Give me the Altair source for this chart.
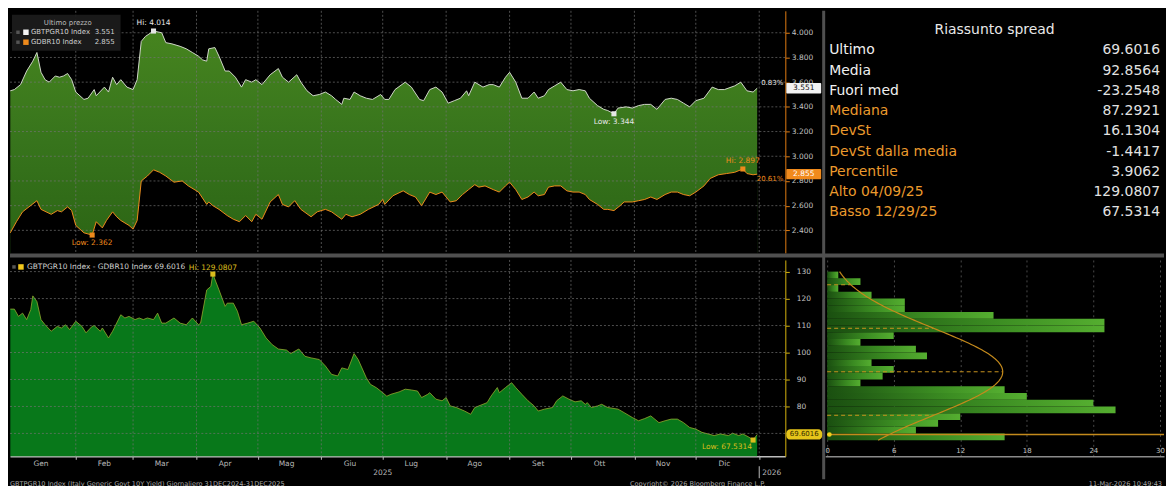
import altair as alt
import numpy as np
import pandas as pd

FONT = "DejaVu Sans"

# ---------------- data ----------------
# Italy 10Y yield (GBTPGR10), day offset from 31 Dec 2024
it_days = [0, 2, 5, 8, 11, 13, 15, 17, 19, 22, 24, 26, 28, 30, 32, 36, 38, 41, 42, 46,
           48, 50, 52, 54, 57, 60, 62, 64, 66, 70, 74, 76, 79, 83, 86, 89, 92, 94, 96, 97,
           100, 102, 105, 107, 110, 113, 115, 118,
           120, 123, 127, 131, 133, 136, 140, 142, 145, 148, 151, 154, 157, 159, 162, 163, 166, 168, 171, 174,
           177, 181, 183, 185, 188, 193, 196, 200, 202, 205, 208, 211, 214, 217, 220, 223, 224, 227, 231, 234,
           236, 239,
           242, 244, 247, 250, 253, 256, 258, 261, 263, 266, 269, 272, 275, 278, 281, 283, 287, 290, 292, 295,
           297, 301, 304, 307, 310, 313, 316, 320, 323, 326, 329, 332, 335, 339, 343, 346, 349, 354, 357, 360,
           363, 365]
it_vals = [3.53, 3.54, 3.58, 3.69, 3.77, 3.84, 3.68, 3.62, 3.60, 3.65, 3.64, 3.65, 3.67, 3.62, 3.52, 3.46, 3.47, 3.54, 3.49, 3.56,
           3.52, 3.64, 3.58, 3.62, 3.56, 3.54, 3.62, 3.93, 3.97, 4.014, 4.00, 3.92, 3.91, 3.89, 3.87, 3.84, 3.81, 3.78, 3.77, 3.87,
           3.88, 3.81, 3.69, 3.69, 3.64, 3.56, 3.62, 3.60,
           3.62, 3.58, 3.66, 3.71, 3.64, 3.60, 3.66, 3.60, 3.53, 3.49, 3.50, 3.52, 3.49, 3.46, 3.42, 3.47, 3.46, 3.52, 3.49, 3.47,
           3.46, 3.50, 3.46, 3.46, 3.54, 3.60, 3.56, 3.46, 3.45, 3.54, 3.56, 3.52, 3.43, 3.45, 3.47, 3.53, 3.49, 3.60, 3.56, 3.58,
           3.58, 3.56,
           3.64, 3.68, 3.60, 3.47, 3.47, 3.52, 3.47, 3.49, 3.54, 3.57, 3.60, 3.54, 3.53, 3.54, 3.53, 3.47, 3.41, 3.38, 3.37, 3.344,
           3.39, 3.40, 3.39, 3.41, 3.42, 3.42, 3.38, 3.46, 3.47, 3.46, 3.43, 3.40, 3.45, 3.47, 3.56, 3.54, 3.54, 3.57, 3.60, 3.53,
           3.52, 3.551]

# Germany 10Y yield (GDBR10)
de_days = [0, 3, 6, 13, 15, 20, 23, 25, 28, 30, 32, 36, 40, 42, 45, 47, 50, 52, 54, 58,
           60, 62, 64, 67, 70, 73, 76, 80, 84, 87, 91, 92, 96, 97, 99, 102, 106, 109, 112, 115, 118,
           120, 123, 127, 131, 133, 136, 139, 142, 147, 150, 154, 157, 162, 164, 167, 171, 175, 180, 182, 183,
           187, 192, 195, 198, 201, 205, 208, 211, 215, 218, 221, 224, 227, 229, 232, 236, 239,
           242, 244, 247, 250, 253, 256, 258, 261, 263, 266, 269, 272, 275, 278, 281, 283, 287, 290, 292, 295,
           298, 300, 304, 307, 310, 313, 316, 320, 323, 326, 329, 332, 335, 339, 342, 346, 350, 354, 358, 360,
           363, 365]
de_vals = [2.38, 2.47, 2.55, 2.64, 2.57, 2.53, 2.56, 2.55, 2.59, 2.56, 2.44, 2.38, 2.362, 2.47, 2.42, 2.48, 2.55, 2.51, 2.48, 2.44,
           2.41, 2.48, 2.80, 2.84, 2.89, 2.87, 2.84, 2.79, 2.80, 2.76, 2.72, 2.71, 2.61, 2.63, 2.60, 2.57, 2.52, 2.49, 2.47, 2.52, 2.47,
           2.53, 2.49, 2.63, 2.69, 2.61, 2.59, 2.64, 2.57, 2.51, 2.55, 2.57, 2.55, 2.49, 2.53, 2.51, 2.53, 2.57, 2.61, 2.65, 2.61,
           2.68, 2.72, 2.69, 2.67, 2.60, 2.71, 2.69, 2.71, 2.63, 2.64, 2.69, 2.73, 2.77, 2.75, 2.76, 2.73, 2.71,
           2.76, 2.79, 2.73, 2.65, 2.67, 2.71, 2.68, 2.69, 2.75, 2.76, 2.76, 2.72, 2.71, 2.71, 2.69, 2.65, 2.61, 2.57, 2.57, 2.56,
           2.60, 2.63, 2.63, 2.64, 2.65, 2.67, 2.65, 2.69, 2.71, 2.71, 2.69, 2.68, 2.71, 2.76, 2.82, 2.85, 2.86, 2.87, 2.897, 2.86,
           2.85, 2.855]

# Spread GBTPGR10 - GDBR10 (bp)
sp_days = [0, 2, 4, 6, 8, 10, 11, 13, 15, 17, 20, 23, 25, 27, 29, 32, 35, 37, 40, 41,
           44, 45, 48, 50, 54, 56, 58, 61, 63, 65, 67, 70, 72, 74, 76, 80, 83, 86, 89, 92,
           93, 96, 98, 99, 102, 105, 106, 109, 111, 113, 116, 119, 122, 125, 128, 131, 135, 137, 141, 144,
           147, 151, 154, 157, 160, 162, 165, 168, 170, 174, 176, 179, 181, 184, 186,
           190, 193, 196, 199, 201, 204, 205, 208, 211, 213, 215, 218, 222, 225, 227, 231, 233, 235, 238, 239,
           242, 245, 247, 250, 253, 256, 258, 261, 265, 267, 270, 273, 276, 279, 281, 282, 284, 287, 289, 292,
           297, 300, 304, 307, 310, 313, 317, 320, 323, 326, 329, 332, 335, 338, 341, 344, 347, 351, 353, 356,
           358, 361, 363, 365]
sp_vals = [116.1, 116.1, 113.4, 114.6, 112.2, 115.9, 121.0, 118.9, 112.2, 110.3, 107.9, 109.7, 109.1, 110.3, 108.5, 111.6, 109.7, 107.3, 109.7, 110.0,
           107.9, 109.1, 105.4, 107.9, 114.0, 112.8, 113.4, 112.2, 112.8, 112.2, 112.8, 112.2, 114.6, 110.9, 110.9, 112.8, 110.9, 110.3, 112.8, 110.3,
           110.9, 123.2, 124.5, 129.0807, 123.2, 117.1, 118.3, 118.3, 115.3, 110.3, 110.9, 111.6, 109.1, 105.4, 102.9, 101.3, 100.9, 99.6, 101.3, 98.6,
           98.0, 97.4, 95.0, 91.9, 91.3, 94.3, 93.7, 99.6, 97.4, 90.6, 88.2, 86.9, 85.7, 83.8, 84.5,
           85.4, 86.4, 86.1, 85.7, 83.3, 84.5, 85.1, 82.7, 82.1, 83.3, 80.2, 79.6, 78.3, 77.1, 79.6, 80.8, 81.4, 83.9, 87.0, 85.1,
           87.0, 88.8, 87.0, 84.5, 82.1, 80.2, 78.3, 79.0, 79.6, 82.1, 83.9, 82.7, 81.7, 82.1, 80.8, 81.4, 79.6, 80.2, 80.8, 79.6,
           79.0, 77.7, 75.9, 74.7, 75.5, 76.5, 74.0, 74.7, 75.3, 75.3, 74.0, 72.2, 71.6, 70.4, 69.8, 69.2, 69.8, 69.2, 70.1, 69.2,
           69.8, 68.6, 67.5314, 69.6016]

# Histogram of the spread (bins of 2.5 bp from 67.5, bottom to top)
hist_counts = [16, 8, 10, 12, 26, 24, 18, 16, 3, 5, 6, 4, 9, 8, 3, 6, 25, 25, 15, 7, 7, 4, 1, 3, 1]
hist_start = 67.5
hist_bin = 2.5

month_names = ["Gen", "Feb", "Mar", "Apr", "Mag", "Giu", "Lug", "Ago", "Set", "Ott", "Nov", "Dic"]
top_ticks = [2.4, 2.6, 2.8, 3.0, 3.2, 3.4, 3.6, 3.8, 4.0]
bot_grid = [70, 80, 90, 100, 110, 120, 130]
bot_ticks = [80, 90, 100, 110, 120, 130]   # 70 is hidden behind the last-value tag
hist_ticks = [0, 6, 12, 18, 24, 30]

stat_title = "Riassunto spread"
stat_labels = ["Ultimo", "Media", "Fuori med", "Mediana", "DevSt", "DevSt dalla media",
               "Percentile", "Alto 04/09/25", "Basso 12/29/25"]
stat_values = ["69.6016", "92.8564", "-23.2548", "87.2921", "16.1304", "-1.4417",
               "3.9062", "129.0807", "67.5314"]
stat_mean = 92.8564
stat_sd = 16.1304
stat_n = 256

pct_labels = ["0.83%", "20.61%"]
footer_left = "GBTPGR10 Index (Italy Generic Govt 10Y Yield) Giornaliero 31DEC2024-31DEC2025"
footer_mid = "Copyright\u00a9 2026 Bloomberg Finance L.P."
footer_right = "11-Mar-2026 10:49:43"

# ---------------- frames ----------------
BASE = pd.Timestamp("2024-12-31")


def frame(days, vals):
    return pd.DataFrame({"date": BASE + pd.to_timedelta(days, unit="D"), "v": vals})


it_df = frame(it_days, it_vals)
de_df = frame(de_days, de_vals)
sp_df = frame(sp_days, sp_vals)
one = pd.DataFrame({"k": [0]})

month_starts = [pd.Timestamp(2025, m, 1) for m in range(2, 13)] + [pd.Timestamp(2026, 1, 1)]
month_start_dt = [alt.DateTime(year=2025, month=m, date=1) for m in range(2, 13)] + \
                 [alt.DateTime(year=2026, month=1, date=1)]
month_df = pd.DataFrame({"date": [pd.Timestamp(2025, m, 15) for m in range(1, 13)], "name": month_names})
grid_v_df = pd.DataFrame({"date": month_starts})

# ---------------- scales / axes ----------------
W_MAIN, H_TOP, H_BOT, W_SIDE = 778, 243, 197, 340
W_ALL = W_MAIN + 40 + W_SIDE
TOP_LO, TOP_HI = 2.2168, 4.1776
BOT_LO, BOT_HI = 61.52, 134.32

xs = alt.Scale(domain=[alt.DateTime(year=2024, month=12, date=30, hours=20, minutes=30),
                       alt.DateTime(year=2026, month=1, date=13, hours=18)])
ys_top = alt.Scale(domain=[TOP_LO, TOP_HI], nice=False, zero=False)
ys_bot = alt.Scale(domain=[BOT_LO, BOT_HI], nice=False, zero=False)
hx = alt.Scale(domain=[-0.18, 30.37], nice=False, zero=False)

ax_top = alt.Axis(orient="right", values=top_ticks, format=".3f", grid=False, title=None,
                  domainColor="#e07b12", tickColor="#e07b12", tickSize=4, labelColor="#c2c2c2",
                  labelFontSize=7.5, labelPadding=2, labelFont=FONT)
ax_bot = alt.Axis(orient="right", values=bot_ticks, grid=False, title=None,
                  domainColor="#d6b30e", tickColor="#d6b30e", tickSize=4, labelColor="#c2c2c2",
                  labelFontSize=7.5, labelPadding=7, labelFont=FONT)
ax_xb = alt.Axis(values=month_start_dt, labels=False, ticks=True, tickSize=3, tickColor="#bdbdbd",
                 domainColor="#bdbdbd", domainWidth=1.5, grid=False, title=None)
ax_hx = alt.Axis(values=hist_ticks, grid=True, gridColor="#5c5c5c", gridDash=[2, 3], gridWidth=0.8,
                 tickSize=0, labelPadding=-10, labelColor="#c2c2c2", labelFontSize=7,
                 domainColor="#8a8a8a", domainWidth=1.5, title=None, labelFont=FONT)


def xt(f="date"):
    return alt.X(f"{f}:T", scale=xs, axis=None)


def yt(f="v"):
    return alt.Y(f"{f}:Q", scale=ys_top, axis=ax_top)


def xb(f="date"):
    return alt.X(f"{f}:T", scale=xs, axis=ax_xb)


def yb(f="v"):
    return alt.Y(f"{f}:Q", scale=ys_bot, axis=ax_bot)


def xh(f):
    return alt.X(f"{f}:Q", scale=hx, axis=ax_hx)


def yh(f):
    return alt.Y(f"{f}:Q", scale=ys_bot, axis=None)


def label(text, x, y, color="#c4c4c4", size=7, align="left", **kw):
    return alt.Chart(one).mark_text(text=text, align=align, baseline="middle", color=color,
                                    fontSize=size, font=FONT, **kw).encode(x=alt.value(x), y=alt.value(y))


def square(x, y, color, size=28):
    return alt.Chart(one).mark_square(color=color, size=size, opacity=1).encode(x=alt.value(x), y=alt.value(y))


GRID = dict(color="#747474", strokeDash=[2, 2], strokeWidth=0.8, opacity=0.85)
WHITE, ORANGE, YELLOW = "#e6e6e6", "#ee8a1c", "#dcbc1c"

# ---------------- top panel: the two yields ----------------
grad_top = alt.Gradient(gradient="linear",
                        stops=[alt.GradientStop(color="#46841f", offset=0),
                               alt.GradientStop(color="#37741c", offset=0.5),
                               alt.GradientStop(color="#2b6414", offset=1)],
                        x1=0, x2=0, y1=0, y2=1)

area_it = alt.Chart(it_df).mark_area(color=grad_top).encode(
    x=xt(), y=yt(), y2="base:Q").transform_calculate(base=str(TOP_LO))
area_de = alt.Chart(de_df).mark_area(color="#000000").encode(
    x=xt(), y=yt(), y2="base:Q").transform_calculate(base=str(TOP_LO))
grid_h_top = alt.Chart(pd.DataFrame({"v": top_ticks})).mark_rule(**GRID).encode(y=yt())
grid_v_top = alt.Chart(grid_v_df).mark_rule(**GRID).encode(x=xt())
line_it = alt.Chart(it_df).mark_line(color="#cfd6c8", strokeWidth=1).encode(x=xt(), y=yt())
line_de = alt.Chart(de_df).mark_line(color=ORANGE, strokeWidth=1).encode(x=xt(), y=yt())

i_hi, i_lo = int(np.argmax(it_vals)), int(np.argmin(it_vals))
d_hi, d_lo = int(np.argmax(de_vals)), int(np.argmin(de_vals))
ann_top = pd.DataFrame({
    "date": BASE + pd.to_timedelta([it_days[i_hi], de_days[d_lo], it_days[i_lo], de_days[d_hi]], unit="D"),
    "v": [it_vals[i_hi], de_vals[d_lo], it_vals[i_lo], de_vals[d_hi]],
    "label": [f"Hi: {it_vals[i_hi]:.3f}", f"Low: {de_vals[d_lo]:.3f}",
              f"Low: {it_vals[i_lo]:.3f}", f"Hi: {de_vals[d_hi]:.3f}"],
    "s": ["IT", "DE", "IT", "DE"],
    "pos": ["up", "down", "down", "up"],
})
ann_color = alt.Color("s:N", scale=alt.Scale(domain=["IT", "DE"], range=[WHITE, ORANGE]), legend=None)
ann_pts = alt.Chart(ann_top).mark_square(size=26, opacity=1).encode(x=xt(), y=yt(), color=ann_color)
ann_up = alt.Chart(ann_top).transform_filter("datum.pos == 'up'").mark_text(
    dy=-8, fontSize=7.5, font=FONT).encode(x=xt(), y=yt(), text="label:N", color=ann_color)
ann_dn = alt.Chart(ann_top).transform_filter("datum.pos == 'down'").mark_text(
    dy=8, fontSize=7.5, font=FONT).encode(x=xt(), y=yt(), text="label:N", color=ann_color)

leg_box = alt.Chart(one).mark_rect(color="#1c1c1c", opacity=0.92).encode(
    x=alt.value(2), x2=alt.value(111), y=alt.value(4), y2=alt.value(40))
leg_top = [
    leg_box,
    label("Ultimo prezzo", 58, 12, "#bdbdbd", 7, "center"),
    square(8, 21.5, "#555555", 12), square(16, 21.5, "#f4f4f4", 30),
    label("GBTPGR10 Index", 21, 21.5, "#cfcfcf"), label(f"{it_vals[-1]:.3f}", 105, 21.5, "#cfcfcf", 7, "right"),
    square(8, 31.5, "#555555", 12), square(16, 31.5, ORANGE, 30),
    label("GDBR10 Index", 21, 31.5, "#cfcfcf"), label(f"{de_vals[-1]:.3f}", 105, 31.5, "#cfcfcf", 7, "right"),
]


def tag_top(value, fill, tcolor, pct, pct_color, pct_dy):
    d = pd.DataFrame({"v": [value], "t": [f"{value:.3f}"], "p": [pct]})
    box = alt.Chart(d).mark_rect(color=fill, cornerRadius=1).encode(
        x=alt.value(779), x2=alt.value(814), y=yt("y1"), y2="y2:Q").transform_calculate(
        y1="datum.v + 0.042", y2="datum.v - 0.042")
    txt = alt.Chart(d).mark_text(color=tcolor, fontSize=7.5, font=FONT, align="center", baseline="middle").encode(
        x=alt.value(796.5), y=yt(), text="t:N")
    ptxt = alt.Chart(d).mark_text(color=pct_color, fontSize=7, font=FONT, align="right", baseline="middle",
                                  dy=pct_dy).encode(x=alt.value(776), y=yt(), text="p:N")
    return [box, txt, ptxt]


tags_top = tag_top(it_vals[-1], "#f2f2f2", "#111111", pct_labels[0], WHITE, -5) + \
    tag_top(de_vals[-1], "#f08a1c", "#ffffff", pct_labels[1], ORANGE, 5)

sep_h = alt.Chart(one).mark_rule(color="#505050", strokeWidth=4).encode(
    x=alt.value(0), x2=alt.value(W_ALL), y=alt.value(245.5))
sep_v = alt.Chart(one).mark_rule(color="#505050", strokeWidth=3).encode(
    x=alt.value(816.5), y=alt.value(0), y2=alt.value(470))

top = alt.layer(area_it, area_de, grid_h_top, grid_v_top, line_it, line_de, ann_pts, ann_up, ann_dn,
                *leg_top, *tags_top, sep_h, sep_v).properties(width=W_MAIN, height=H_TOP)

# ---------------- stats panel ----------------
ys_stats = alt.Scale(domain=[-1, 8], range=[19.4, 202.1])
stats_df = pd.DataFrame({"i": list(range(len(stat_labels))), "label": stat_labels, "val": stat_values})
st_title = alt.Chart(pd.DataFrame({"i": [-1], "t": [stat_title]})).mark_text(
    fontSize=14, font=FONT, color="#e8e8e8", align="center", baseline="middle").encode(
    x=alt.value(W_SIDE / 2), y=alt.Y("i:Q", scale=ys_stats, axis=None), text="t:N")
st_lab = alt.Chart(stats_df).transform_calculate(
    col="datum.i < 3 ? '#f0f0f0' : '#eb9a2d'").mark_text(
    fontSize=14, font=FONT, align="left", baseline="middle").encode(
    x=alt.value(4), y=alt.Y("i:Q", scale=ys_stats, axis=None), text="label:N",
    color=alt.Color("col:N", scale=None))
st_val = alt.Chart(stats_df).mark_text(
    fontSize=14, font=FONT, align="right", baseline="middle", color="#e2e2e2").encode(
    x=alt.value(W_SIDE - 4), y=alt.Y("i:Q", scale=ys_stats, axis=None), text="val:N")
stats = alt.layer(st_title, st_lab, st_val).properties(width=W_SIDE, height=H_TOP)

# ---------------- bottom panel: spread ----------------
area_sp = alt.Chart(sp_df).mark_area(color="#08781a").encode(
    x=xb(), y=yb(), y2="base:Q").transform_calculate(base=str(BOT_LO))
line_sp = alt.Chart(sp_df).mark_line(color="#93a82e", strokeWidth=0.8).encode(x=xb(), y=yb())
grid_h_bot = alt.Chart(pd.DataFrame({"v": bot_grid})).mark_rule(**GRID).encode(y=yb())
grid_v_bot = alt.Chart(grid_v_df).mark_rule(**GRID).encode(x=xb())
months = alt.Chart(month_df).mark_text(fontSize=7.5, font=FONT, color="#b8b8b8", baseline="middle").encode(
    x=xb(), y=alt.value(205), text="name:N")
year_df = pd.DataFrame({"date": [pd.Timestamp(2025, 7, 1)], "t": ["2025"]})
year_a = alt.Chart(year_df).mark_text(fontSize=7.5, font=FONT, color="#b8b8b8", baseline="middle").encode(
    x=xb(), y=alt.value(214), text="t:N")
year2_df = pd.DataFrame({"date": [pd.Timestamp(2026, 1, 1)], "t": ["2026"]})
year_b = alt.Chart(year2_df).mark_text(fontSize=7.5, font=FONT, color="#b8b8b8", baseline="middle",
                                       align="left", dx=3).encode(x=xb(), y=alt.value(214), text="t:N")
year_tick = alt.Chart(year2_df).mark_rule(color="#bdbdbd", strokeWidth=1).encode(
    x=xb(), y=alt.value(207), y2=alt.value(219))

s_hi, s_lo = int(np.argmax(sp_vals)), int(np.argmin(sp_vals))
hi_df = pd.DataFrame({"date": [BASE + pd.Timedelta(days=sp_days[s_hi])], "v": [sp_vals[s_hi]],
                      "t": [f"Hi: {sp_vals[s_hi]:.4f}"]})
lo_df = pd.DataFrame({"date": [BASE + pd.Timedelta(days=sp_days[s_lo])], "v": [sp_vals[s_lo]],
                      "t": [f"Low: {sp_vals[s_lo]:.4f}"]})
hi_pt = alt.Chart(hi_df).mark_square(size=26, color=YELLOW, opacity=1).encode(x=xb(), y=yb())
hi_tx = alt.Chart(hi_df).mark_text(fontSize=7.5, font=FONT, color=YELLOW, dy=-6).encode(x=xb(), y=yb(), text="t:N")
lo_pt = alt.Chart(lo_df).mark_square(size=26, color=YELLOW, opacity=1).encode(x=xb(), y=yb())
lo_tx = alt.Chart(lo_df).mark_text(fontSize=7.5, font=FONT, color=YELLOW, dy=7, dx=-1, align="right").encode(
    x=xb(), y=yb(), text="t:N")

last_df = pd.DataFrame({"v": [sp_vals[-1]], "t": [f"{sp_vals[-1]:.4f}"]})
sp_tag = alt.Chart(last_df).mark_rect(color="#e6c51a", cornerRadius=4).encode(
    x=alt.value(779), x2=alt.value(815), y=yb("y1"), y2="y2:Q").transform_calculate(
    y1="datum.v + 1.9", y2="datum.v - 1.9")
sp_tag_t = alt.Chart(last_df).mark_text(fontSize=7, font=FONT, color="#3a3000", align="center",
                                         baseline="middle").encode(x=alt.value(797), y=yb(), text="t:N")

leg_bot = [
    square(4, 7, "#555555", 12), square(11, 7, "#f2c81c", 30),
    label(f"GBTPGR10 Index - GDBR10 Index {sp_vals[-1]:.4f}", 17, 7, "#cfcfcf", 7.5),
]
foot_l = label(footer_left, 0, 225, "#a8a8a8", 6.6)
foot_m = label(footer_mid, 690, 225, "#a8a8a8", 6.6, "center")

bottom = alt.layer(area_sp, line_sp, grid_h_bot, grid_v_bot, months, year_a, year_b, year_tick,
                   hi_pt, hi_tx, lo_pt, lo_tx, sp_tag, sp_tag_t, *leg_bot, foot_l, foot_m
                   ).properties(width=W_MAIN, height=H_BOT)

# ---------------- histogram ----------------
grad_hist = alt.Gradient(gradient="linear",
                         stops=[alt.GradientStop(color="#1a4f10", offset=0),
                                alt.GradientStop(color="#3b8c22", offset=0.6),
                                alt.GradientStop(color="#55ae30", offset=1)],
                         x1=0, x2=1, y1=0, y2=0)
hist_df = pd.DataFrame({"lo": [hist_start + hist_bin * i for i in range(len(hist_counts))], "cnt": hist_counts})
bars = alt.Chart(hist_df).transform_calculate(hi=f"datum.lo + {hist_bin}", x0="0").mark_rect(
    color=grad_hist).encode(x=xh("x0"), x2="cnt:Q", y=yh("lo"), y2="hi:Q")

peak = stat_n * hist_bin / (stat_sd * np.sqrt(2 * np.pi))
cy = np.linspace(67.5, 130.0, 126)
curve_df = pd.DataFrame({"y": cy, "dens": peak * np.exp(-0.5 * ((cy - stat_mean) / stat_sd) ** 2)})
ks = np.array([-1, 0, 1, 2])
dash_df = pd.DataFrame({"y": stat_mean + ks * stat_sd, "xe": peak * np.exp(-0.5 * ks ** 2.0), "x0": 0.0})
dashes = alt.Chart(dash_df).mark_rule(color="#c9941e", strokeDash=[4, 3], strokeWidth=1).encode(
    x=xh("x0"), x2="xe:Q", y=yh("y"))
curve = alt.Chart(curve_df).mark_line(color="#c48a1c", strokeWidth=1.2).encode(
    x=xh("dens"), y=yh("y"), order="y:Q")
last_h = pd.DataFrame({"v": [sp_vals[-1]], "x0": [0.0], "xm": [0.2]})
last_line = alt.Chart(last_h).mark_rule(color="#c48a1c", strokeWidth=1.5).encode(
    x=xh("x0"), x2=alt.value(W_SIDE), y=yh("v"))
last_pt = alt.Chart(last_h).mark_point(filled=True, color="#f2cf1c", size=22, opacity=1).encode(
    x=xh("xm"), y=yh("v"))
foot_r = label(footer_right, W_SIDE - 2, 225, "#a8a8a8", 6.6, "right")

hist = alt.layer(bars, dashes, curve, last_line, last_pt, foot_r).properties(width=W_SIDE, height=H_BOT)

# ---------------- assemble (2x2 grid) ----------------
chart = alt.concat(top, stats, bottom, hist, columns=2, spacing={"row": 7, "column": 40},
                   bounds="flush").resolve_scale(
    x="independent", y="independent").properties(
    padding=0, background="#000000").configure_view(stroke=None)

chart.save("out.html", embed_options={"renderer": "svg", "actions": False})
